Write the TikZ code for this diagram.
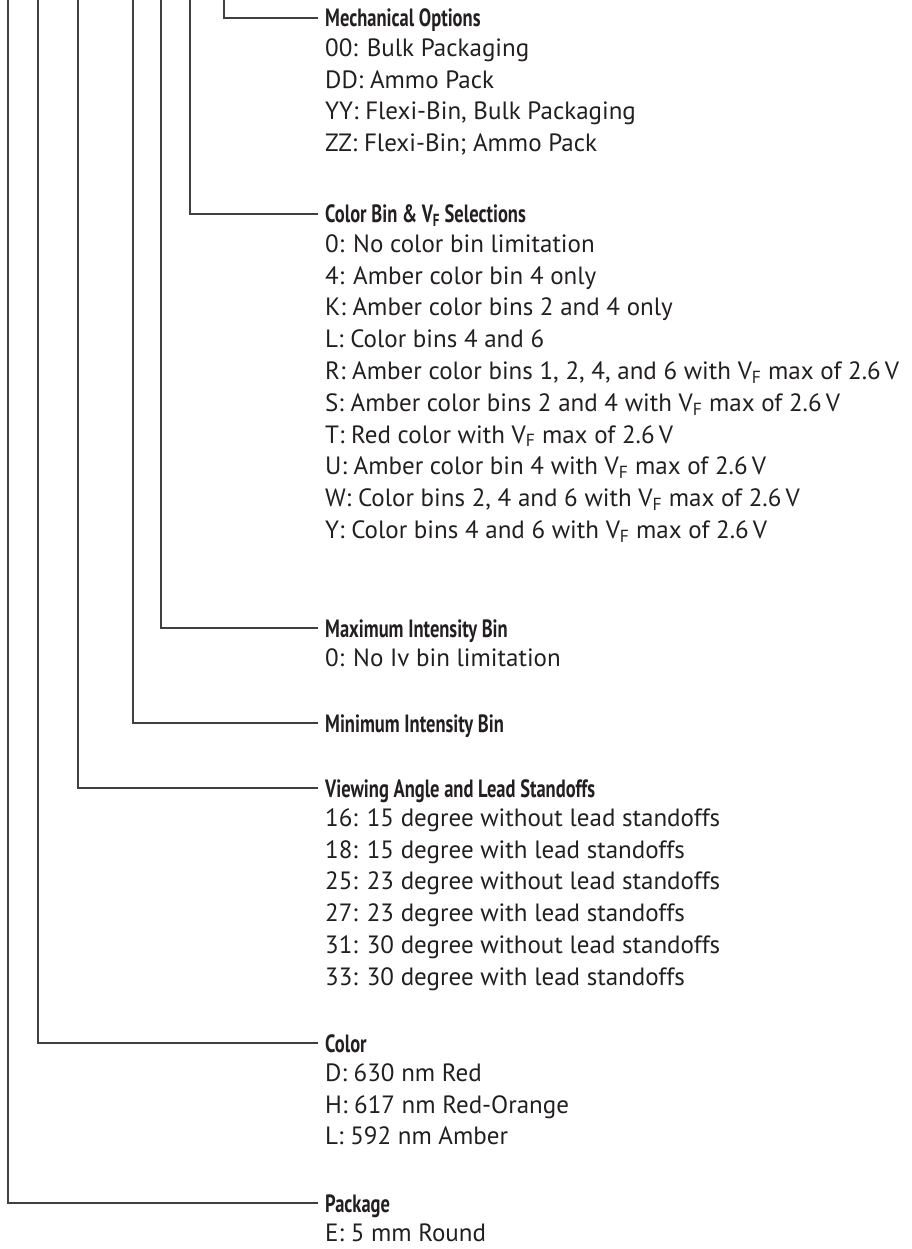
\documentclass[tikz,border=0pt]{standalone}
\usepackage{fontspec}
\setmainfont{PT Sans}
\newfontfamily\headfont{PT Sans}[FakeStretch=0.74]
\usetikzlibrary{positioning}

\definecolor{ink}{HTML}{231F20}
\newcommand{\VF}{V\textsubscript{F}}

\tikzset{
    lead/.style={draw=black!75, line width=1.3pt},
    head/.style={font=\fontsize{25}{31.8}\headfont\bfseries, text=ink,
        anchor=west, inner xsep=7pt, inner ysep=0pt,
        text height=18pt, text depth=0pt},
    choices/.style={font=\fontsize{25}{31.8}\selectfont, text=ink,
        align=left, inner sep=0pt}
}

\begin{document}
\begin{tikzpicture}[x=1pt, y=-1pt]
\useasboundingbox (0,0) rectangle (911,1249);

    % headings
    \node[head] (mech) at (318, 18) {Mechanical Options};
    \node[head] (bin) at (318, 214) {Color Bin \& \VF\ Selections};
    \node[head] (maxiv) at (318, 628) {Maximum Intensity Bin};
    \node[head] (miniv) at (318, 723) {Minimum Intensity Bin};
    \node[head] (angle) at (318, 788) {Viewing Angle and Lead Standoffs};
    \node[head] (color) at (318, 1043) {Color};
    \node[head] (pack) at (318, 1203) {Package};

    % option lists
    \node[choices, below right=6.7pt and 7pt of mech.south west] (mech list)
        {\strut 00: Bulk Packaging\\ DD: Ammo Pack\\
         YY: Flexi-Bin, Bulk Packaging\\ ZZ: Flexi-Bin; Ammo Pack};
    \node[choices, below right=6.7pt and 7pt of bin.south west] (bin list)
        {\strut 0: No color bin limitation\\
         4: Amber color bin 4 only\\
         K: Amber color bins 2 and 4 only\\
         L: Color bins 4 and 6\\
         R: Amber color bins 1, 2, 4, and 6 with \VF\ max of 2.6\,V\\
         S: Amber color bins 2 and 4 with \VF\ max of 2.6\,V\\
         T: Red color with \VF\ max of 2.6\,V\\
         U: Amber color bin 4 with \VF\ max of 2.6\,V\\
         W: Color bins 2, 4 and 6 with \VF\ max of 2.6\,V\\
         Y: Color bins 4 and 6 with \VF\ max of 2.6\,V};
    \node[choices, below right=6.7pt and 7pt of maxiv.south west] (maxiv list)
        {\strut 0: No Iv bin limitation};
    \node[choices, below right=6.7pt and 7pt of angle.south west] (angle list)
        {\strut 16: 15 degree without lead standoffs\\
         18: 15 degree with lead standoffs\\
         25: 23 degree without lead standoffs\\
         27: 23 degree with lead standoffs\\
         31: 30 degree without lead standoffs\\
         33: 30 degree with lead standoffs};
    \node[choices, below right=6.7pt and 7pt of color.south west] (color list)
        {\strut D: 630 nm Red\\ H: 617 nm Red-Orange\\ L: 592 nm Amber};
    \node[choices, below right=6.7pt and 7pt of pack.south west] (pack list)
        {\strut E: 5 mm Round};

    % leads from the part number above
    \coordinate (pack top) at (8, 0);
    \coordinate (color top) at (38, 0);
    \coordinate (angle top) at (78, 0);
    \coordinate (miniv top) at (133, 0);
    \coordinate (maxiv top) at (161, 0);
    \coordinate (bin top) at (190, 0);
    \coordinate (mech top) at (224, 0);

    \draw[lead] (pack top) |- (pack);
    \draw[lead] (color top) |- (color);
    \draw[lead] (angle top) |- (angle);
    \draw[lead] (miniv top) |- (miniv);
    \draw[lead] (maxiv top) |- (maxiv);
    \draw[lead] (bin top) |- (bin);
    \draw[lead] (mech top) |- (mech);

\end{tikzpicture}
\end{document}
